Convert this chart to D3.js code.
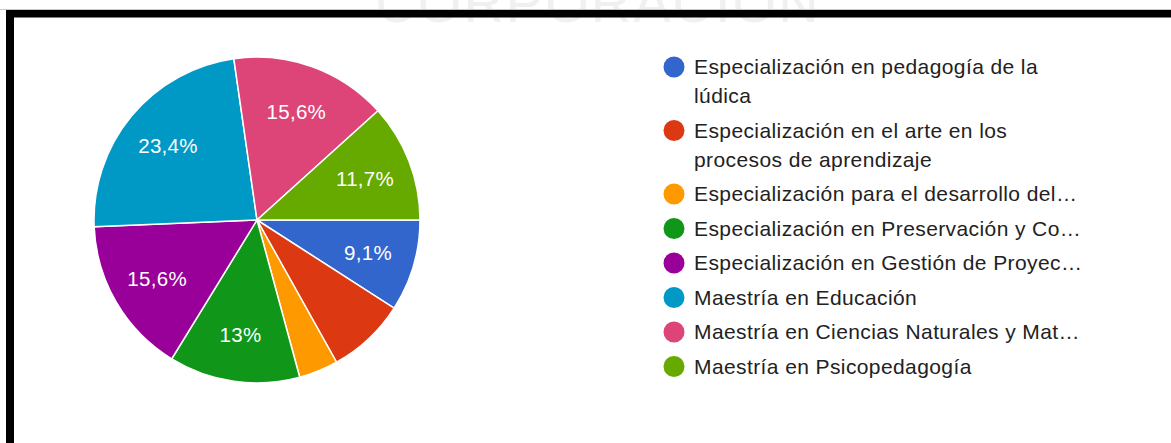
<!DOCTYPE html>
<html>
<head>
<meta charset="utf-8">
<script src="https://cdn.jsdelivr.net/npm/d3@7"></script>
<style>
  body { margin: 0; background: #fff; }
  text { font-family: Arial, "Liberation Sans", sans-serif; }
</style>
</head>
<body>
<div id="container"></div>
<script>
// program names as they appear in the legend ("\n" marks where the legend wraps)
const categories = [
    "Especialización en pedagogía de la\nlúdica",
    "Especialización en el arte en los\nprocesos de aprendizaje",
    "Especialización para el desarrollo del…",
    "Especialización en Preservación y Co…",
    "Especialización en Gestión de Proyec…",
    "Maestría en Educación",
    "Maestría en Ciencias Naturales y Mat…",
    "Maestría en Psicopedagogía"
];
// responses per program
const counts = [7, 6, 3, 10, 12, 18, 12, 9];
const colors = ["#3366cc", "#dc3912", "#ff9900", "#109618", "#990099", "#0099c6", "#dd4477", "#66aa00"];

const width = 1171;
const height = 443;
const cx = 257;
const cy = 220;
const radius = 163;

const svg = d3.select("#container")
    .append("svg")
    .attr("width", width)
    .attr("height", height);

// faint heading cut off behind the frame
svg.append("text")
    .attr("x", 598)
    .attr("y", 22)
    .attr("text-anchor", "middle")
    .attr("font-size", 56)
    .attr("letter-spacing", 2)
    .attr("fill", "#f0f0f0")
    .text("CORPORACION");

svg.append("line")
    .attr("x1", 0).attr("x2", width)
    .attr("y1", 9.5).attr("y2", 9.5)
    .attr("stroke", "#c8c8c8");

// black frame, top and left
svg.append("rect").attr("x", 6).attr("y", 10).attr("width", width - 6).attr("height", 7.5).attr("fill", "#000");
svg.append("rect").attr("x", 6).attr("y", 10).attr("width", 8).attr("height", height - 10).attr("fill", "#000");

const total = d3.sum(counts);
const pie = d3.pie().sort(null)
    .startAngle(Math.PI / 2)
    .endAngle(Math.PI / 2 + 2 * Math.PI);
const arcs = pie(counts);

const arc = d3.arc().innerRadius(0).outerRadius(radius);
const labelArc = d3.arc().innerRadius(radius * 0.71).outerRadius(radius * 0.71);

const g = svg.append("g").attr("transform", `translate(${cx},${cy})`);

g.selectAll("path")
    .data(arcs)
    .join("path")
    .attr("d", arc)
    .attr("fill", (d, i) => colors[i])
    .attr("stroke", "#fff")
    .attr("stroke-width", 1.5);

// percentage labels, only on slices big enough
const fmt = v => {
    const p = Math.round(v / total * 1000) / 10;
    return String(p).replace(".", ",") + "%";
};
g.selectAll("text.pct")
    .data(arcs.filter(d => d.value / total > 0.085))
    .join("text")
    .attr("class", "pct")
    .attr("transform", d => `translate(${labelArc.centroid(d)})`)
    .attr("text-anchor", "middle")
    .attr("dy", "0.36em")
    .attr("font-size", 20.5)
    .attr("letter-spacing", 0.3)
    .attr("fill", "#fff")
    .text(d => fmt(d.value));

// legend
const legendX = 674;
const legendY = 67;
const lineH = 29;
const gap = 5.5;
let y = legendY;
categories.forEach((name, i) => {
    const lines = name.split("\n");
    const item = svg.append("g").attr("transform", `translate(${legendX},${y})`);
    item.append("circle")
        .attr("r", 10.5)
        .attr("fill", colors[i]);
    const t = item.append("text")
        .attr("x", 20)
        .attr("y", 7)
        .attr("font-size", 21)
        .attr("letter-spacing", 0.4)
        .attr("fill", "#222");
    lines.forEach((ln, j) => {
        t.append("tspan").attr("x", 20).attr("dy", j === 0 ? 0 : lineH).text(ln);
    });
    y += lines.length * lineH + gap;
});
</script>
</body>
</html>
